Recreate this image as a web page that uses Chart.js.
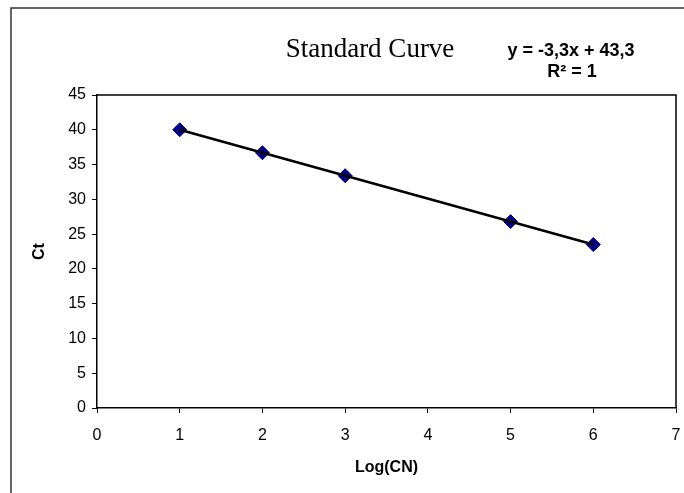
<!DOCTYPE html>
<html lang="en">

<head>
    <meta charset="UTF-8">
    <title>Standard Curve</title>
    <style>
        body {
            margin: 0;
            background: #fff;
        }

        canvas {
            display: block;
        }
    </style>
</head>

<body>
    <canvas id="curveChart" width="684" height="493"></canvas>

    <script src="https://cdn.jsdelivr.net/npm/chart.js"></script>
    <script>
        // data
        const logCN = [1, 2, 3, 5, 6];
        const ctValues = [40, 36.7, 33.4, 26.8, 23.5];
        const trendX = [1, 6];
        const trendY = [40, 23.5];
        const xTicks = [0, 1, 2, 3, 4, 5, 6, 7];
        const yTicks = [0, 5, 10, 15, 20, 25, 30, 35, 40, 45];

        const chartTitle = 'Standard Curve';
        const equationText = 'y = -3,3x + 43,3';
        const rSquaredText = 'R² = 1';

        // frame, plot box and title texts
        const framePlugin = {
            id: 'frame',
            beforeDraw(chart) {
                const c = chart.ctx;
                c.save();
                c.fillStyle = '#fff';
                c.fillRect(0, 0, chart.width, chart.height);
                c.restore();
            },
            afterDraw(chart) {
                const c = chart.ctx;
                const a = chart.chartArea;
                c.save();
                // outer border
                c.strokeStyle = '#333';
                c.lineWidth = 1.5;
                c.strokeRect(11, 8, 700, 520);
                // plot box
                c.strokeStyle = '#000';
                c.lineWidth = 1.5;
                c.beginPath();
                c.moveTo(a.left, a.top);
                c.lineTo(a.right, a.top);
                c.lineTo(a.right, a.bottom);
                c.stroke();
                // title
                c.fillStyle = '#000';
                c.textAlign = 'center';
                c.textBaseline = 'middle';
                c.font = '27px "Liberation Serif", "Times New Roman", serif';
                c.fillText(chartTitle, 370, 50);
                // equation
                c.font = 'bold 18px "Liberation Sans", Arial, sans-serif';
                c.fillText(equationText, 571, 51);
                c.fillText(rSquaredText, 572, 72);
                c.restore();
            }
        };

        const ctx = document.getElementById('curveChart').getContext('2d');
        const curveChart = new Chart(ctx, {
            type: 'scatter',
            data: {
                datasets: [{
                    label: 'Trend',
                    type: 'line',
                    data: trendX.map((x, i) => ({ x: x, y: trendY[i] })),
                    borderColor: '#000',
                    borderWidth: 2.5,
                    pointRadius: 0,
                    fill: false,
                    order: 0
                }, {
                    label: 'Ct',
                    data: logCN.map((x, i) => ({ x: x, y: ctValues[i] })),
                    pointStyle: 'rectRot',
                    pointRadius: 7,
                    pointBackgroundColor: '#000080',
                    pointBorderColor: '#000080',
                    pointBorderWidth: 1,
                    order: 1
                }]
            },
            options: {
                responsive: false,
                animation: false,
                layout: { padding: { left: 0, top: 95, right: 7, bottom: 0 } },
                plugins: {
                    legend: { display: false },
                    tooltip: { enabled: false }
                },
                scales: {
                    x: {
                        type: 'linear',
                        min: 0,
                        max: 7,
                        afterFit: (scale) => {
                            scale.height = 85;
                            scale.paddingLeft = 0;
                            scale.paddingRight = 0;
                        },
                        afterBuildTicks: (scale) => { scale.ticks = xTicks.map(v => ({ value: v })); },
                        ticks: {
                            color: '#000',
                            padding: 13,
                            font: { family: '"Liberation Sans", Arial, sans-serif', size: 16 }
                        },
                        grid: { drawOnChartArea: false, drawTicks: true, tickLength: 5, color: '#000', lineWidth: 1 },
                        border: { display: true, color: '#000', width: 1.5 },
                        title: {
                            display: true,
                            text: 'Log(CN)',
                            color: '#000',
                            padding: { top: 0, bottom: 16 },
                            font: { family: '"Liberation Sans", Arial, sans-serif', size: 16, weight: 'bold' }
                        }
                    },
                    y: {
                        min: 0,
                        max: 45,
                        afterFit: (scale) => { scale.width = 97; },
                        afterBuildTicks: (scale) => { scale.ticks = yTicks.map(v => ({ value: v })); },
                        ticks: {
                            color: '#000',
                            padding: 6,
                            font: { family: '"Liberation Sans", Arial, sans-serif', size: 16 }
                        },
                        grid: { drawOnChartArea: false, drawTicks: true, tickLength: 5, color: '#000', lineWidth: 1 },
                        border: { display: true, color: '#000', width: 1.5 },
                        title: {
                            display: true,
                            text: 'Ct',
                            color: '#000',
                            padding: { top: 30, bottom: 0 },
                            font: { family: '"Liberation Sans", Arial, sans-serif', size: 16, weight: 'bold' }
                        }
                    }
                }
            },
            plugins: [framePlugin]
        });
    </script>
</body>

</html>
